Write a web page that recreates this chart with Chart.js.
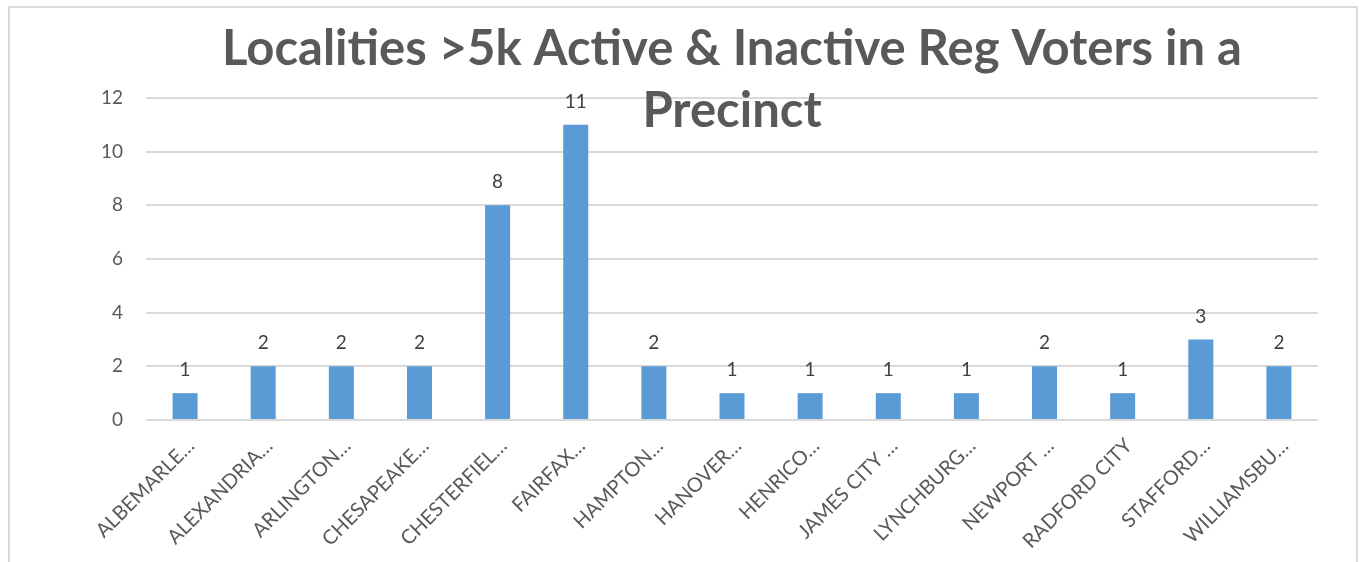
<!DOCTYPE html>
<html><head><meta charset="utf-8">
<script src="https://cdn.jsdelivr.net/npm/chart.js@4/dist/chart.umd.min.js"></script>
<style>html,body{margin:0;padding:0;background:#fff;}#wrap{position:relative;width:1359px;height:562px;}</style>
</head><body><div id="wrap"><canvas id="c" width="1359" height="562"></canvas></div>
<script>
const categories = ['ALBEMARLE…','ALEXANDRIA…','ARLINGTON…','CHESAPEAKE…','CHESTERFIEL…','FAIRFAX…','HAMPTON…','HANOVER…','HENRICO…','JAMES CITY …','LYNCHBURG…','NEWPORT …','RADFORD CITY','STAFFORD…','WILLIAMSBU…'];
const values = [1,2,2,2,8,11,2,1,1,1,1,2,1,3,2];
const yTicks = [0,2,4,6,8,10,12];
const titleLines = ['Localities >5k Active & Inactive Reg Voters in a','Precinct'];

const FONT = 'Lato';

const framePlugin = {
  id: 'frame',
  beforeDraw(chart) {
    const ctx = chart.ctx;
    ctx.save();
    ctx.strokeStyle = '#d9d9d9';
    ctx.lineWidth = 2;
    ctx.strokeRect(9, 7, 1348, 700);
    ctx.restore();
  }
};

const titlePlugin = {
  id: 'overTitle',
  afterDraw(chart) {
    const ctx = chart.ctx, a = chart.chartArea;
    ctx.save();
    ctx.font = 'bold 49px ' + FONT;
    ctx.fillStyle = '#595959';
    ctx.textAlign = 'center';
    ctx.textBaseline = 'alphabetic';
    const cx = (a.left + a.right) / 2;
    ctx.fillText(titleLines[0], cx, a.top - 33);
    ctx.fillText(titleLines[1], cx, a.top + 29);
    ctx.restore();
  }
};

const labelPlugin = {
  id: 'barLabels',
  afterDatasetsDraw(chart) {
    const ctx = chart.ctx;
    const meta = chart.getDatasetMeta(0);
    ctx.save();
    ctx.font = '19px ' + FONT;
    ctx.fillStyle = '#404040';
    ctx.textAlign = 'center';
    ctx.textBaseline = 'alphabetic';
    meta.data.forEach((bar, i) => {
      ctx.fillText(String(values[i]), bar.x, bar.y - 17);
    });
    ctx.restore();
  }
};

new Chart(document.getElementById('c'), {
  type: 'bar',
  data: {
    labels: categories,
    datasets: [{
      data: values,
      backgroundColor: '#5B9BD5',
      barPercentage: 0.32,
      categoryPercentage: 1.0
    }]
  },
  options: {
    responsive: false,
    animation: false,
    devicePixelRatio: 1,
    layout: { padding: { left: 86, right: 41, top: 98, bottom: 0 } },
    plugins: { legend: { display: false }, title: { display: false }, tooltip: { enabled: false } },
    scales: {
      x: {
        grid: { display: false },
        border: { display: false },
        afterFit(s) { s.height = 142; },
        ticks: {
          autoSkip: false,
          maxRotation: 45, minRotation: 45,
          labelOffset: 6,
          padding: 6,
          color: '#595959',
          font: { family: FONT, size: 20 }
        }
      },
      y: {
        min: 0, max: 12,
        afterFit(s) { s.width = 60; },
        afterBuildTicks(s) { s.ticks = yTicks.map(v => ({ value: v })); },
        grid: { color: '#d9d9d9', lineWidth: 2, drawTicks: false },
        border: { display: false },
        ticks: {
          padding: 23,
          color: '#595959',
          font: { family: FONT, size: 19 }
        }
      }
    }
  },
  plugins: [framePlugin, titlePlugin, labelPlugin]
});
</script></body></html>
